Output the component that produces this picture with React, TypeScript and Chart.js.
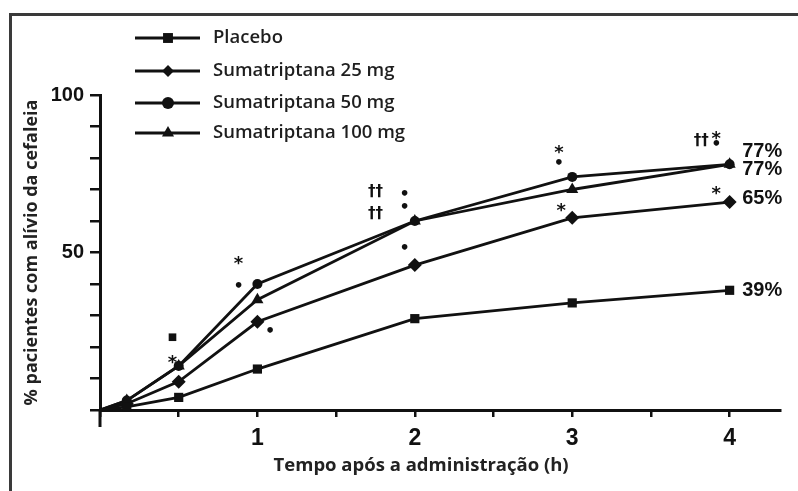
import { useEffect, useRef } from 'react';
import { Chart, registerables } from 'chart.js';

Chart.register(...registerables);

// ---- data ----
const times = [0, 0.17, 0.5, 1, 2, 3, 4];
const placebo = [0, 1, 4, 13, 29, 34, 38];
const suma25 = [0, 2, 9, 28, 46, 61, 66];
const suma50 = [0, 3, 14, 40, 60, 74, 78];
const suma100 = [0, 3, 14, 35, 60, 70, 78];
const seriesNames = ['Placebo', 'Sumatriptana 25 mg', 'Sumatriptana 50 mg', 'Sumatriptana 100 mg'];
const seriesMarkers = ['rect', 'rectRot', 'circle', 'triangle'];

const yTickLabels = [50, 100];
const xTickLabels = [1, 2, 3, 4];
const xTitle = 'Tempo após a administração (h)';
const yTitle = '% pacientes com alívio da cefaleia';

const endLabels = ['77%', '77%', '65%', '39%'];
const endLabelX = 4.08;
const endLabelY = [82.2, 76.2, 67.3, 38.1];

// significance marks (text, x in h, y in %)
const markText = ['■', '*', '*', '•', '•', '††', '††', '•', '•', '•', '*', '•', '*', '††', '*', '•', '*'];
const markX = [0.46, 0.46, 0.88, 0.88, 1.08, 1.75, 1.75, 1.935, 1.935, 1.935, 2.915, 2.915, 2.93, 3.82, 3.915, 3.915, 3.915];
const markY = [22.9, 16.2, 47.6, 39, 24.8, 69.2, 62.2, 68.3, 64.1, 51.1, 82.9, 78.1, 64.4, 85.5, 87.3, 84.1, 69.8];

const INK = '#111111';

function drawMarker(ctx: CanvasRenderingContext2D, style: string, x: number, y: number, r: number) {
  ctx.beginPath();
  if (style === 'rect') {
    const s = Math.SQRT1_2 * r;
    ctx.rect(x - s, y - s, 2 * s, 2 * s);
  } else if (style === 'rectRot') {
    const s = r * 0.85;
    ctx.moveTo(x - s, y);
    ctx.lineTo(x, y + s);
    ctx.lineTo(x + s, y);
    ctx.lineTo(x, y - s);
    ctx.closePath();
  } else if (style === 'circle') {
    ctx.arc(x, y, r, 0, Math.PI * 2);
  } else {
    ctx.moveTo(x, y - r);
    ctx.lineTo(x + r * 0.866, y + r * 0.5);
    ctx.lineTo(x - r * 0.866, y + r * 0.5);
    ctx.closePath();
  }
  ctx.fill();
}

const overlayPlugin = {
  id: 'overlay',
  afterDraw(chart: any) {
    const ctx: CanvasRenderingContext2D = chart.ctx;
    const xs = chart.scales.x;
    const ys = chart.scales.y;
    ctx.save();
    // axis extension below origin
    ctx.strokeStyle = INK;
    ctx.lineWidth = 3;
    ctx.beginPath();
    ctx.moveTo(xs.getPixelForValue(0), ys.getPixelForValue(0));
    ctx.lineTo(xs.getPixelForValue(0), ys.getPixelForValue(0) + 17);
    ctx.stroke();

    // x axis title (centred slightly left of the axis centre, as in the source)
    ctx.fillStyle = '#222';
    ctx.font = 'bold 18.5px "Open Sans", sans-serif';
    ctx.textAlign = 'center';
    ctx.textBaseline = 'middle';
    ctx.fillText(xTitle, xs.getPixelForValue(2.04), xs.bottom - 25);

    // legend
    const rows = [38, 71, 103, 133];
    seriesNames.forEach((name, i) => {
      const y = rows[i];
      ctx.strokeStyle = INK;
      ctx.fillStyle = INK;
      ctx.lineWidth = 3;
      ctx.beginPath();
      ctx.moveTo(135, y);
      ctx.lineTo(200, y);
      ctx.stroke();
      drawMarker(ctx, seriesMarkers[i], 168, y, i === 2 ? 6 : 7);
      ctx.fillStyle = '#1e1e1e';
      ctx.font = '600 18.5px "Open Sans", sans-serif';
      ctx.textAlign = 'left';
      ctx.textBaseline = 'middle';
      ctx.fillText(name, 213, y);
    });

    // end labels
    ctx.fillStyle = INK;
    ctx.font = 'bold 20px "Liberation Sans", Arial, sans-serif';
    ctx.textAlign = 'left';
    ctx.textBaseline = 'middle';
    endLabels.forEach((t, i) => {
      ctx.fillText(t, xs.getPixelForValue(endLabelX), ys.getPixelForValue(endLabelY[i]));
    });

    // significance marks
    ctx.textAlign = 'center';
    markText.forEach((t, i) => {
      const px = xs.getPixelForValue(markX[i]);
      const py = ys.getPixelForValue(markY[i]);
      if (t === '*') {
        ctx.font = 'bold 18px "DejaVu Sans", sans-serif';
        ctx.fillText(t, px, py + 4);
      } else if (t === '■') {
        ctx.font = 'bold 10px "DejaVu Sans", sans-serif';
        ctx.fillText(t, px, py);
      } else if (t === '•') {
        ctx.font = 'bold 16px "DejaVu Sans", sans-serif';
        ctx.fillText(t, px, py);
      } else {
        ctx.font = 'bold 15px "DejaVu Sans", sans-serif';
        ctx.fillText(t, px, py);
      }
    });
    ctx.restore();
  },
};

export default function App() {
  const ref = useRef<HTMLCanvasElement | null>(null);

  useEffect(() => {
    if (!ref.current) return;
    const series = [placebo, suma25, suma50, suma100];
    const radii = [6.5, 7, 5, 7];
    const chart = new Chart(ref.current, {
      type: 'line',
      data: {
        datasets: series.map((vals, i) => ({
          label: seriesNames[i],
          data: vals.map((v, j) => ({ x: times[j], y: v })),
          borderColor: INK,
          backgroundColor: INK,
          borderWidth: 2.8,
          pointStyle: seriesMarkers[i] as any,
          pointRadius: times.map((_, j) => (j === 0 ? 0 : radii[i])),
          pointBorderWidth: 0,
          pointBackgroundColor: INK,
          tension: 0,
          clip: false as any,
        })),
      },
      options: {
        animation: false,
        responsive: false,
        layout: { padding: { top: 95, right: 18, left: 0, bottom: 0 } },
        plugins: { legend: { display: false }, tooltip: { enabled: false } },
        scales: {
          x: {
            type: 'linear',
            min: 0,
            max: 4.32,
            afterFit: (s: any) => { s.height = 81; },
            border: { display: true, color: INK, width: 3 },
            grid: { drawOnChartArea: false, drawTicks: true, tickLength: 7, color: INK, lineWidth: 2.5 },
            ticks: {
              stepSize: 0.5,
              includeBounds: false,
              autoSkip: false,
              maxRotation: 0,
              padding: 8,
              color: INK,
              font: { family: '"Liberation Sans", Arial, sans-serif', weight: 'bold', size: 23 },
              callback: (v: any) => (xTickLabels.includes(Number(v)) ? String(v) : ''),
            },
          },
          y: {
            type: 'linear',
            min: 0,
            max: 100,
            afterFit: (s: any) => { s.width = 100; },
            border: { display: true, color: INK, width: 3 },
            grid: { drawOnChartArea: false, drawTicks: true, tickLength: 10, color: INK, lineWidth: 2.5 },
            ticks: {
              stepSize: 10,
              autoSkip: false,
              padding: 6,
              color: INK,
              font: { family: '"Liberation Sans", Arial, sans-serif', weight: 'bold', size: 20 },
              callback: (v: any) => (yTickLabels.includes(Number(v)) ? String(v) : ''),
            },
            title: {
              display: true,
              text: yTitle,
              color: '#222',
              font: { family: '"Open Sans", sans-serif', weight: 'bold', size: 18 },
              padding: { top: 21, bottom: 0 },
            },
          },
        },
      },
      plugins: [overlayPlugin],
    });
    return () => chart.destroy();
  }, []);

  return (
    <div style={{ position: 'fixed', left: 0, top: 0, width: 798, height: 491, background: '#fff', overflow: 'hidden' }}>
      <div
        style={{
          position: 'absolute',
          left: 9,
          top: 13,
          width: 820,
          height: 520,
          borderLeft: '3px solid #3a3a3a',
          borderTop: '3px solid #3a3a3a',
        }}
      />
      <canvas ref={ref} width={798} height={491} style={{ position: 'absolute', left: 0, top: 0 }} />
    </div>
  );
}
